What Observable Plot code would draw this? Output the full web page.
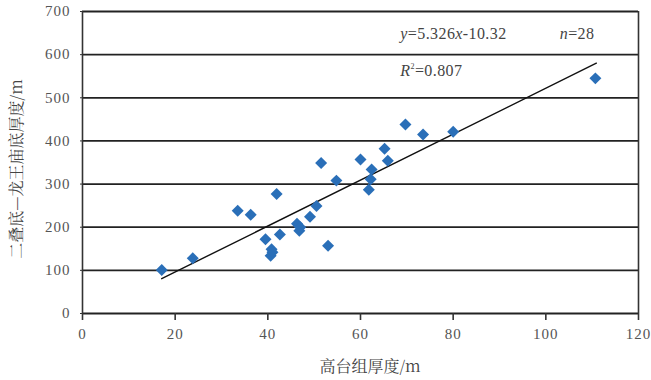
<!DOCTYPE html>
<html><head><meta charset="utf-8">
<script src="https://cdn.jsdelivr.net/npm/d3@7"></script>
<script src="https://cdn.jsdelivr.net/npm/@observablehq/plot@0.6"></script>
<style>body{margin:0;background:#fff}</style>
</head><body><div id="chart"></div>
<script>
// Data (高台组厚度 vs 二叠底—龙王庙底厚度)
const thickGaotai = [17.1,23.8,33.5,36.3,39.5,40.6,40.8,41.0,41.9,42.6,46.3,46.8,47.0,49.1,50.5,51.5,53.0,54.8,60.0,61.8,62.2,62.4,65.2,65.9,69.7,73.5,80.0,110.7];
const thickErdie = [101,128,238,229,172,134,149,142,277,183,208,192,200,224,249,349,157,308,357,287,311,334,382,354,438,415,421,545];
const fitSlope = 5.326, fitIntercept = -10.32;
const fitRange = [17.1, 110.9];
const xTicks = [0,20,40,60,80,100,120];
const yTicks = [0,100,200,300,400,500,600,700];
const xLabel = "高台组厚度/m";
const yLabel = "二叠底—龙王庙底厚度/m";
const annText = ["y=5.326x-10.32", "n=28", "R2=0.807"];
const annX = [68.6, 103.0, 68.6];
const annY = [648, 648, 562];

const points = thickGaotai.map((x, i) => ({x, y: thickErdie[i]}));
const fit = fitRange.map(x => ({x, y: fitSlope * x + fitIntercept}));
const ann = annText.map((t, i) => ({t, x: annX[i], y: annY[i]}));

const W = 651, H = 380;
const mL = 82, mR = 13, mT = 11, mB = 67;
const serif = "'Times New Roman', serif";
const cjk = "'Noto Serif CJK SC', 'Noto Sans CJK SC', serif";

const chart = Plot.plot({
  width: W, height: H,
  marginLeft: mL, marginRight: mR, marginTop: mT, marginBottom: mB,
  style: {fontFamily: serif, fontSize: "15px", color: "#555", background: "#fff"},
  x: {domain: [0, 120], ticks: xTicks, tickSize: 7, tickPadding: 8, label: null},
  y: {domain: [0, 700], ticks: yTicks, tickSize: 2, tickPadding: 9, label: null},
  marks: [
    Plot.ruleY(yTicks, {stroke: "#222", strokeWidth: 1.8}),
    Plot.ruleX([0, 120], {stroke: "#333", strokeWidth: 1.6}),
    Plot.axisX({ticks: xTicks, tickSize: 7, tickPadding: 8, stroke: "#333", strokeWidth: 1.6, fill: "#555", label: null}),
    Plot.axisY({ticks: yTicks, tickSize: 2, tickPadding: 10, stroke: "#333", fill: "#555", label: null}),
    Plot.line(fit, {x: "x", y: "y", stroke: "#111", strokeWidth: 1.4}),
    Plot.dot(points, {x: "x", y: "y", symbol: "diamond2", r: 5.4, fill: "#2a6fb8", stroke: "none"}),
    Plot.text(ann, {x: "x", y: "y", text: "t", textAnchor: "start", fontSize: 16, fill: "#444"})
  ]
});

const svg = d3.select(chart);
svg.selectAll("text").attr("font-family", serif).style("font-family", serif);
svg.selectAll("g[aria-label='x-axis tick label'] text, g[aria-label='y-axis tick label'] text")
  .style("letter-spacing", "1px");
// rich formatting for annotations
svg.selectAll("text").each(function() {
  const el = d3.select(this);
  const t = el.text();
  if (t === "y=5.326x-10.32") {
    el.text(null).style("letter-spacing", "0.4px");
    el.append("tspan").attr("font-style", "italic").text("y");
    el.append("tspan").text("=5.326");
    el.append("tspan").attr("font-style", "italic").text("x");
    el.append("tspan").text("-10.32");
  } else if (t === "n=28") {
    el.text(null).style("letter-spacing", "0.4px");
    el.append("tspan").attr("font-style", "italic").text("n");
    el.append("tspan").text("=28");
  } else if (t === "R2=0.807") {
    el.text(null).style("letter-spacing", "0.4px");
    el.append("tspan").attr("font-style", "italic").text("R");
    el.append("tspan").attr("font-size", "8").attr("dy", "-7").text("2");
    el.append("tspan").attr("dy", "7").text("=0.807");
  }
});
// axis titles
svg.append("text")
  .attr("x", 370).attr("y", 368)
  .attr("text-anchor", "middle").attr("dominant-baseline", "middle")
  .style("font-family", cjk).attr("font-size", 16).attr("fill", "#444")
  .text(xLabel);
svg.append("text")
  .attr("transform", "translate(18,169) rotate(-90)")
  .attr("text-anchor", "middle").attr("dominant-baseline", "middle")
  .style("font-family", cjk).attr("font-size", 16).attr("fill", "#444")
  .text(yLabel);

document.getElementById("chart").append(chart);
</script></body></html>
